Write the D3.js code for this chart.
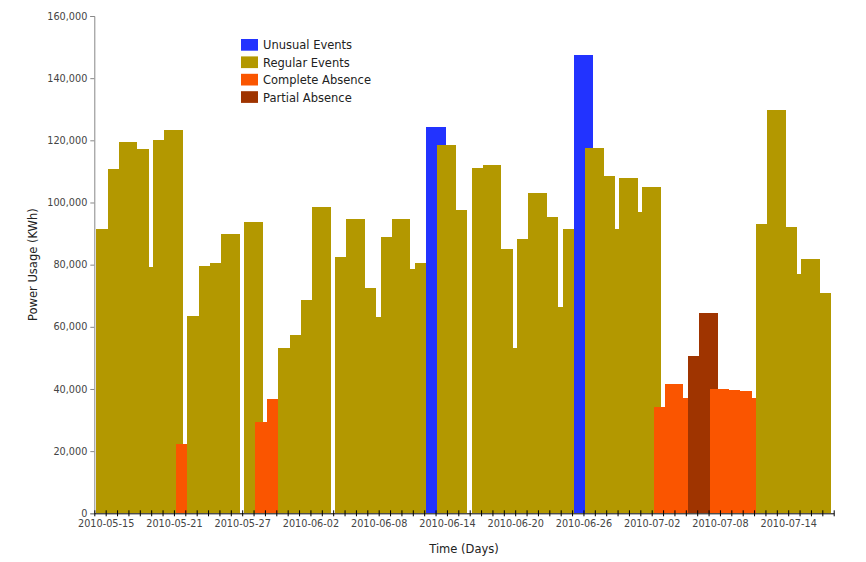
<!DOCTYPE html>
<html>
<head>
<meta charset="utf-8">
<script src="https://cdn.jsdelivr.net/npm/d3@7"></script>
<style>
  html, body { margin: 0; padding: 0; background: #fff; }
  svg { display: block; }
  text { font-family: "DejaVu Sans", Verdana, sans-serif; }
</style>
</head>
<body>
<svg id="chart" width="866" height="562"></svg>
<script>
// ---- data ----
const categories = ["Unusual Events", "Regular Events", "Complete Absence", "Partial Absence"];
const categoryColors = ["#2233ff", "#b39800", "#fa5500", "#9f3400"];

const periodStarts = [
  "2010-05-14 04:00","2010-05-15 04:00","2010-05-16 04:00","2010-05-17 19:00","2010-05-18 19:00",
  "2010-05-19 04:00","2010-05-20 04:00","2010-05-21 04:00","2010-05-22 04:00","2010-05-23 04:00",
  "2010-05-24 04:00","2010-05-25 04:00","2010-05-27 04:00","2010-05-28 04:00","2010-05-29 04:00",
  "2010-05-30 04:00","2010-05-31 04:00","2010-06-01 04:00","2010-06-02 04:00","2010-06-04 04:00",
  "2010-06-05 04:00","2010-06-06 19:00","2010-06-07 19:00","2010-06-08 04:00","2010-06-09 04:00",
  "2010-06-10 19:00","2010-06-11 04:00","2010-06-12 04:00","2010-06-13 04:00","2010-06-14 19:00",
  "2010-06-16 04:00","2010-06-17 04:00","2010-06-18 19:00","2010-06-19 19:00","2010-06-20 04:00",
  "2010-06-21 04:00","2010-06-22 19:00","2010-06-23 19:00","2010-06-24 04:00","2010-06-25 04:00",
  "2010-06-26 04:00","2010-06-27 19:00","2010-06-28 19:00","2010-06-29 04:00","2010-06-30 19:00",
  "2010-07-01 04:00","2010-07-02 04:00","2010-07-03 04:00","2010-07-04 19:00","2010-07-05 04:00",
  "2010-07-06 04:00","2010-07-07 04:00","2010-07-08 19:00","2010-07-09 19:00","2010-07-10 19:00",
  "2010-07-11 04:00","2010-07-12 04:00","2010-07-13 19:00","2010-07-14 19:00","2010-07-15 04:00",
  "2010-07-16 19:00"
];
const periodEnds = [
  "2010-05-15 04:00","2010-05-16 04:00","2010-05-17 19:00","2010-05-18 19:00","2010-05-19 04:00",
  "2010-05-20 04:00","2010-05-21 19:00","2010-05-22 04:00","2010-05-23 04:00","2010-05-24 04:00",
  "2010-05-25 04:00","2010-05-26 19:00","2010-05-28 19:00","2010-05-29 04:00","2010-05-30 04:00",
  "2010-05-31 04:00","2010-06-01 04:00","2010-06-02 04:00","2010-06-03 19:00","2010-06-05 04:00",
  "2010-06-06 19:00","2010-06-07 19:00","2010-06-08 04:00","2010-06-09 04:00","2010-06-10 19:00",
  "2010-06-11 04:00","2010-06-12 04:00","2010-06-13 21:00","2010-06-14 19:00","2010-06-15 19:00",
  "2010-06-17 04:00","2010-06-18 19:00","2010-06-19 19:00","2010-06-20 04:00","2010-06-21 04:00",
  "2010-06-22 19:00","2010-06-23 19:00","2010-06-24 04:00","2010-06-25 04:00","2010-06-26 21:00",
  "2010-06-27 19:00","2010-06-28 19:00","2010-06-29 04:00","2010-06-30 19:00","2010-07-01 04:00",
  "2010-07-02 19:00","2010-07-03 04:00","2010-07-04 19:00","2010-07-05 04:00","2010-07-06 04:00",
  "2010-07-07 19:00","2010-07-08 19:00","2010-07-09 19:00","2010-07-10 19:00","2010-07-11 04:00",
  "2010-07-12 04:00","2010-07-13 19:00","2010-07-14 19:00","2010-07-15 04:00","2010-07-16 19:00",
  "2010-07-17 19:00"
];
const powerUsage = [
  91500,110800,119400,117200,79300,
  120000,123300,22300,63500,79600,
  80600,90000,93800,29500,36900,
  53100,57500,68500,98500,82500,
  94800,72500,63100,88900,94600,
  78500,80400,124200,118400,97500,
  111100,112200,85000,53300,88300,
  103000,95200,66300,91600,147400,
  117500,108400,91500,107800,97100,
  105000,34300,41600,37200,50500,
  64400,39900,39700,39400,37000,
  93200,129800,92200,77000,81900,
  70900
];
const periodTypes = [
  "Regular Events","Regular Events","Regular Events","Regular Events","Regular Events",
  "Regular Events","Regular Events","Complete Absence","Regular Events","Regular Events",
  "Regular Events","Regular Events","Regular Events","Complete Absence","Complete Absence",
  "Regular Events","Regular Events","Regular Events","Regular Events","Regular Events",
  "Regular Events","Regular Events","Regular Events","Regular Events","Regular Events",
  "Regular Events","Regular Events","Unusual Events","Regular Events","Regular Events",
  "Regular Events","Regular Events","Regular Events","Regular Events","Regular Events",
  "Regular Events","Regular Events","Regular Events","Regular Events","Unusual Events",
  "Regular Events","Regular Events","Regular Events","Regular Events","Regular Events",
  "Regular Events","Complete Absence","Complete Absence","Complete Absence","Partial Absence",
  "Partial Absence","Complete Absence","Complete Absence","Complete Absence","Complete Absence",
  "Regular Events","Regular Events","Regular Events","Regular Events","Regular Events",
  "Regular Events"
];
const xDomain = ["2010-05-14 00:00", "2010-07-18 00:00"];
const xTickLabels = ["2010-05-15","2010-05-21","2010-05-27","2010-06-02","2010-06-08",
                     "2010-06-14","2010-06-20","2010-06-26","2010-07-02","2010-07-08","2010-07-14"];
const yTicks = [0, 20000, 40000, 60000, 80000, 100000, 120000, 140000, 160000];
const xTitle = "Time (Days)";
const yTitle = "Power Usage (KWh)";

// ---- drawing ----
const parse = d3.timeParse("%Y-%m-%d %H:%M");
const fmtDay = d3.timeFormat("%Y-%m-%d");
const rows = periodStarts.map((s, i) => ({
  start: parse(s), end: parse(periodEnds[i]), value: powerUsage[i], type: periodTypes[i]
}));

const svg = d3.select("#chart");
const plotLeft = 94.3, plotRight = 833.7, plotTop = 16, plotBottom = 513.3;

const x = d3.scaleTime().domain(xDomain.map(parse)).range([plotLeft, plotRight]);
const y = d3.scaleLinear().domain([0, 160000]).range([plotBottom, plotTop]);
const color = d3.scaleOrdinal().domain(categories).range(categoryColors);

svg.append("g").attr("shape-rendering", "crispEdges")
  .selectAll("rect").data(rows).join("rect")
  .attr("x", d => x(d.start))
  .attr("width", d => x(d.end) - x(d.start))
  .attr("y", d => y(d.value))
  .attr("height", d => y(0) - y(d.value))
  .attr("fill", d => color(d.type));

// y axis
const yAxis = svg.append("g")
  .attr("transform", `translate(${plotLeft},0)`)
  .call(d3.axisLeft(y).tickValues(yTicks).tickFormat(d3.format(",")).tickSize(4).tickSizeOuter(4).tickPadding(3));
yAxis.select(".domain").attr("stroke", "#888");
yAxis.selectAll(".tick line").attr("stroke", "#888");
yAxis.selectAll("text").attr("font-size", "9.7px").attr("fill", "#444").attr("font-family", "DejaVu Sans, Verdana, sans-serif");

// x axis
const labelSet = new Set(xTickLabels);
const xAxis = svg.append("g")
  .attr("transform", `translate(0,${plotBottom})`)
  .call(d3.axisBottom(x).ticks(d3.timeDay.every(1))
    .tickFormat(d => labelSet.has(fmtDay(d)) ? fmtDay(d) : "")
    .tickSize(3).tickSizeOuter(0).tickPadding(4));
xAxis.select(".domain").attr("stroke", "#000");
xAxis.selectAll(".tick line").attr("y1", -3).attr("y2", 3).attr("stroke", "#000");
xAxis.selectAll("text").attr("font-size", "9.7px").attr("fill", "#444").attr("font-family", "DejaVu Sans, Verdana, sans-serif");

// titles
svg.append("text")
  .attr("x", (plotLeft + plotRight) / 2).attr("y", 553)
  .attr("text-anchor", "middle").attr("font-size", "11.5px").attr("fill", "#222")
  .text(xTitle);
svg.append("text")
  .attr("transform", `translate(37,${(plotTop + plotBottom) / 2}) rotate(-90)`)
  .attr("text-anchor", "middle").attr("font-size", "11.5px").attr("fill", "#222")
  .text(yTitle);

// legend
const legend = svg.append("g").attr("transform", "translate(241,39)");
const li = legend.selectAll("g").data(categories).join("g")
  .attr("transform", (d, i) => `translate(0,${i * 17.4})`);
li.append("rect").attr("width", 17).attr("height", 11.7).attr("fill", d => color(d));
li.append("text").attr("x", 22).attr("y", 10.3)
  .attr("font-size", "11.5px").attr("fill", "#222").text(d => d);
</script>
</body>
</html>
